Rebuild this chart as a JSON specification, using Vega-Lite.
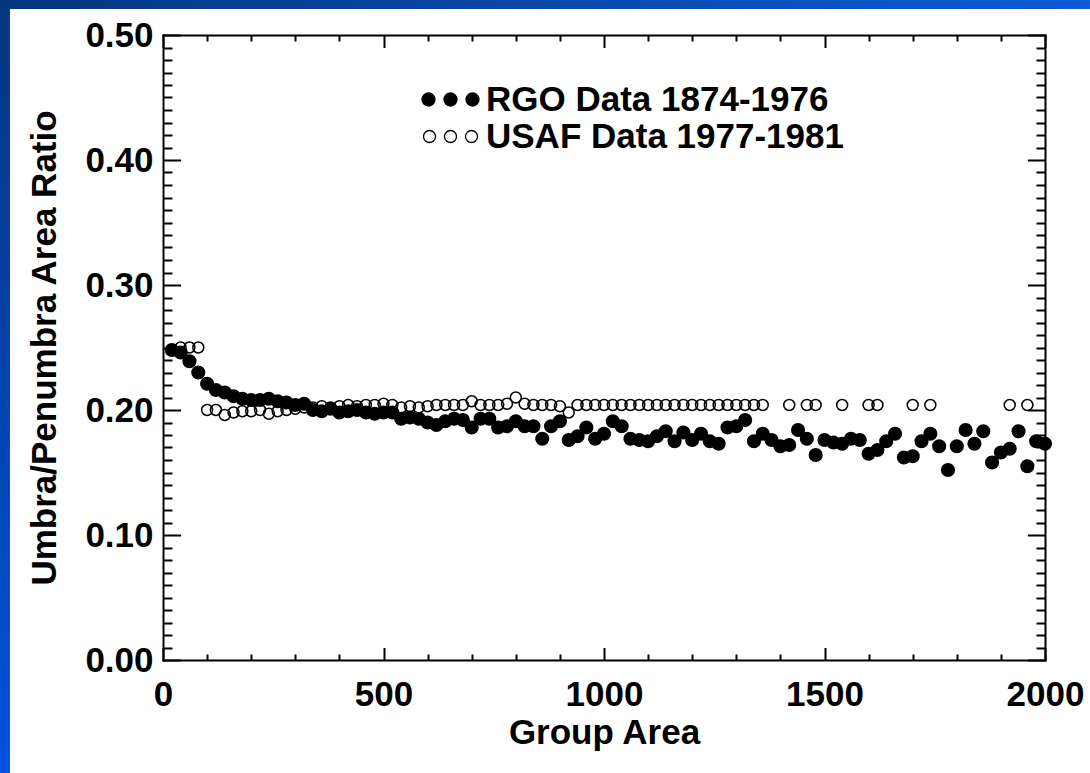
{
  "$schema": "https://vega.github.io/schema/vega-lite/v6.json",
  "width": 882,
  "height": 625,
  "autosize": {"type": "none"},
  "padding": {"left": 163, "top": 35, "right": 45, "bottom": 113},
  "background": "white",
  "config": {
    "view": {"stroke": null},
    "font": "Liberation Sans",
    "axis": {"domainCap": "square", "grid": false}
  },
  "datasets": {
    "rgo": [
      {"x": 20, "y": 0.248, "series": "RGO Data 1874-1976"},
      {"x": 40, "y": 0.246, "series": "RGO Data 1874-1976"},
      {"x": 60, "y": 0.239, "series": "RGO Data 1874-1976"},
      {"x": 80, "y": 0.230, "series": "RGO Data 1874-1976"},
      {"x": 100, "y": 0.221, "series": "RGO Data 1874-1976"},
      {"x": 120, "y": 0.216, "series": "RGO Data 1874-1976"},
      {"x": 140, "y": 0.214, "series": "RGO Data 1874-1976"},
      {"x": 160, "y": 0.211, "series": "RGO Data 1874-1976"},
      {"x": 180, "y": 0.209, "series": "RGO Data 1874-1976"},
      {"x": 200, "y": 0.208, "series": "RGO Data 1874-1976"},
      {"x": 220, "y": 0.208, "series": "RGO Data 1874-1976"},
      {"x": 240, "y": 0.209, "series": "RGO Data 1874-1976"},
      {"x": 260, "y": 0.207, "series": "RGO Data 1874-1976"},
      {"x": 280, "y": 0.206, "series": "RGO Data 1874-1976"},
      {"x": 300, "y": 0.204, "series": "RGO Data 1874-1976"},
      {"x": 320, "y": 0.205, "series": "RGO Data 1874-1976"},
      {"x": 340, "y": 0.200, "series": "RGO Data 1874-1976"},
      {"x": 360, "y": 0.199, "series": "RGO Data 1874-1976"},
      {"x": 380, "y": 0.201, "series": "RGO Data 1874-1976"},
      {"x": 400, "y": 0.198, "series": "RGO Data 1874-1976"},
      {"x": 420, "y": 0.199, "series": "RGO Data 1874-1976"},
      {"x": 440, "y": 0.200, "series": "RGO Data 1874-1976"},
      {"x": 460, "y": 0.198, "series": "RGO Data 1874-1976"},
      {"x": 480, "y": 0.197, "series": "RGO Data 1874-1976"},
      {"x": 500, "y": 0.198, "series": "RGO Data 1874-1976"},
      {"x": 520, "y": 0.198, "series": "RGO Data 1874-1976"},
      {"x": 540, "y": 0.193, "series": "RGO Data 1874-1976"},
      {"x": 560, "y": 0.194, "series": "RGO Data 1874-1976"},
      {"x": 580, "y": 0.193, "series": "RGO Data 1874-1976"},
      {"x": 600, "y": 0.190, "series": "RGO Data 1874-1976"},
      {"x": 620, "y": 0.188, "series": "RGO Data 1874-1976"},
      {"x": 640, "y": 0.191, "series": "RGO Data 1874-1976"},
      {"x": 660, "y": 0.193, "series": "RGO Data 1874-1976"},
      {"x": 680, "y": 0.192, "series": "RGO Data 1874-1976"},
      {"x": 700, "y": 0.186, "series": "RGO Data 1874-1976"},
      {"x": 720, "y": 0.193, "series": "RGO Data 1874-1976"},
      {"x": 740, "y": 0.193, "series": "RGO Data 1874-1976"},
      {"x": 760, "y": 0.186, "series": "RGO Data 1874-1976"},
      {"x": 780, "y": 0.187, "series": "RGO Data 1874-1976"},
      {"x": 800, "y": 0.191, "series": "RGO Data 1874-1976"},
      {"x": 820, "y": 0.187, "series": "RGO Data 1874-1976"},
      {"x": 840, "y": 0.187, "series": "RGO Data 1874-1976"},
      {"x": 860, "y": 0.177, "series": "RGO Data 1874-1976"},
      {"x": 880, "y": 0.187, "series": "RGO Data 1874-1976"},
      {"x": 900, "y": 0.191, "series": "RGO Data 1874-1976"},
      {"x": 920, "y": 0.176, "series": "RGO Data 1874-1976"},
      {"x": 940, "y": 0.179, "series": "RGO Data 1874-1976"},
      {"x": 960, "y": 0.186, "series": "RGO Data 1874-1976"},
      {"x": 980, "y": 0.177, "series": "RGO Data 1874-1976"},
      {"x": 1000, "y": 0.181, "series": "RGO Data 1874-1976"},
      {"x": 1020, "y": 0.191, "series": "RGO Data 1874-1976"},
      {"x": 1040, "y": 0.187, "series": "RGO Data 1874-1976"},
      {"x": 1060, "y": 0.177, "series": "RGO Data 1874-1976"},
      {"x": 1080, "y": 0.176, "series": "RGO Data 1874-1976"},
      {"x": 1100, "y": 0.175, "series": "RGO Data 1874-1976"},
      {"x": 1120, "y": 0.179, "series": "RGO Data 1874-1976"},
      {"x": 1140, "y": 0.183, "series": "RGO Data 1874-1976"},
      {"x": 1160, "y": 0.175, "series": "RGO Data 1874-1976"},
      {"x": 1180, "y": 0.182, "series": "RGO Data 1874-1976"},
      {"x": 1200, "y": 0.176, "series": "RGO Data 1874-1976"},
      {"x": 1220, "y": 0.181, "series": "RGO Data 1874-1976"},
      {"x": 1240, "y": 0.175, "series": "RGO Data 1874-1976"},
      {"x": 1260, "y": 0.173, "series": "RGO Data 1874-1976"},
      {"x": 1280, "y": 0.186, "series": "RGO Data 1874-1976"},
      {"x": 1300, "y": 0.187, "series": "RGO Data 1874-1976"},
      {"x": 1320, "y": 0.192, "series": "RGO Data 1874-1976"},
      {"x": 1340, "y": 0.175, "series": "RGO Data 1874-1976"},
      {"x": 1360, "y": 0.181, "series": "RGO Data 1874-1976"},
      {"x": 1380, "y": 0.176, "series": "RGO Data 1874-1976"},
      {"x": 1400, "y": 0.171, "series": "RGO Data 1874-1976"},
      {"x": 1420, "y": 0.172, "series": "RGO Data 1874-1976"},
      {"x": 1440, "y": 0.184, "series": "RGO Data 1874-1976"},
      {"x": 1460, "y": 0.177, "series": "RGO Data 1874-1976"},
      {"x": 1480, "y": 0.164, "series": "RGO Data 1874-1976"},
      {"x": 1500, "y": 0.176, "series": "RGO Data 1874-1976"},
      {"x": 1520, "y": 0.174, "series": "RGO Data 1874-1976"},
      {"x": 1540, "y": 0.173, "series": "RGO Data 1874-1976"},
      {"x": 1560, "y": 0.177, "series": "RGO Data 1874-1976"},
      {"x": 1580, "y": 0.176, "series": "RGO Data 1874-1976"},
      {"x": 1600, "y": 0.165, "series": "RGO Data 1874-1976"},
      {"x": 1620, "y": 0.168, "series": "RGO Data 1874-1976"},
      {"x": 1640, "y": 0.175, "series": "RGO Data 1874-1976"},
      {"x": 1660, "y": 0.181, "series": "RGO Data 1874-1976"},
      {"x": 1680, "y": 0.162, "series": "RGO Data 1874-1976"},
      {"x": 1700, "y": 0.163, "series": "RGO Data 1874-1976"},
      {"x": 1720, "y": 0.175, "series": "RGO Data 1874-1976"},
      {"x": 1740, "y": 0.181, "series": "RGO Data 1874-1976"},
      {"x": 1760, "y": 0.171, "series": "RGO Data 1874-1976"},
      {"x": 1780, "y": 0.152, "series": "RGO Data 1874-1976"},
      {"x": 1800, "y": 0.171, "series": "RGO Data 1874-1976"},
      {"x": 1820, "y": 0.184, "series": "RGO Data 1874-1976"},
      {"x": 1840, "y": 0.173, "series": "RGO Data 1874-1976"},
      {"x": 1860, "y": 0.183, "series": "RGO Data 1874-1976"},
      {"x": 1880, "y": 0.158, "series": "RGO Data 1874-1976"},
      {"x": 1900, "y": 0.166, "series": "RGO Data 1874-1976"},
      {"x": 1920, "y": 0.169, "series": "RGO Data 1874-1976"},
      {"x": 1940, "y": 0.183, "series": "RGO Data 1874-1976"},
      {"x": 1960, "y": 0.155, "series": "RGO Data 1874-1976"},
      {"x": 1980, "y": 0.175, "series": "RGO Data 1874-1976"},
      {"x": 2000, "y": 0.173, "series": "RGO Data 1874-1976"}
    ],
    "usaf": [
      {"x": 40, "y": 0.250, "series": "USAF Data 1977-1981"},
      {"x": 60, "y": 0.250, "series": "USAF Data 1977-1981"},
      {"x": 80, "y": 0.250, "series": "USAF Data 1977-1981"},
      {"x": 100, "y": 0.200, "series": "USAF Data 1977-1981"},
      {"x": 120, "y": 0.200, "series": "USAF Data 1977-1981"},
      {"x": 140, "y": 0.196, "series": "USAF Data 1977-1981"},
      {"x": 160, "y": 0.198, "series": "USAF Data 1977-1981"},
      {"x": 180, "y": 0.199, "series": "USAF Data 1977-1981"},
      {"x": 200, "y": 0.199, "series": "USAF Data 1977-1981"},
      {"x": 220, "y": 0.200, "series": "USAF Data 1977-1981"},
      {"x": 240, "y": 0.197, "series": "USAF Data 1977-1981"},
      {"x": 260, "y": 0.199, "series": "USAF Data 1977-1981"},
      {"x": 280, "y": 0.200, "series": "USAF Data 1977-1981"},
      {"x": 300, "y": 0.201, "series": "USAF Data 1977-1981"},
      {"x": 320, "y": 0.202, "series": "USAF Data 1977-1981"},
      {"x": 340, "y": 0.202, "series": "USAF Data 1977-1981"},
      {"x": 360, "y": 0.203, "series": "USAF Data 1977-1981"},
      {"x": 380, "y": 0.202, "series": "USAF Data 1977-1981"},
      {"x": 400, "y": 0.203, "series": "USAF Data 1977-1981"},
      {"x": 420, "y": 0.204, "series": "USAF Data 1977-1981"},
      {"x": 440, "y": 0.203, "series": "USAF Data 1977-1981"},
      {"x": 460, "y": 0.204, "series": "USAF Data 1977-1981"},
      {"x": 480, "y": 0.204, "series": "USAF Data 1977-1981"},
      {"x": 500, "y": 0.205, "series": "USAF Data 1977-1981"},
      {"x": 520, "y": 0.204, "series": "USAF Data 1977-1981"},
      {"x": 540, "y": 0.202, "series": "USAF Data 1977-1981"},
      {"x": 560, "y": 0.203, "series": "USAF Data 1977-1981"},
      {"x": 580, "y": 0.202, "series": "USAF Data 1977-1981"},
      {"x": 600, "y": 0.203, "series": "USAF Data 1977-1981"},
      {"x": 620, "y": 0.204, "series": "USAF Data 1977-1981"},
      {"x": 640, "y": 0.204, "series": "USAF Data 1977-1981"},
      {"x": 660, "y": 0.204, "series": "USAF Data 1977-1981"},
      {"x": 680, "y": 0.204, "series": "USAF Data 1977-1981"},
      {"x": 700, "y": 0.207, "series": "USAF Data 1977-1981"},
      {"x": 720, "y": 0.204, "series": "USAF Data 1977-1981"},
      {"x": 740, "y": 0.204, "series": "USAF Data 1977-1981"},
      {"x": 760, "y": 0.204, "series": "USAF Data 1977-1981"},
      {"x": 780, "y": 0.205, "series": "USAF Data 1977-1981"},
      {"x": 800, "y": 0.210, "series": "USAF Data 1977-1981"},
      {"x": 820, "y": 0.205, "series": "USAF Data 1977-1981"},
      {"x": 840, "y": 0.204, "series": "USAF Data 1977-1981"},
      {"x": 860, "y": 0.204, "series": "USAF Data 1977-1981"},
      {"x": 880, "y": 0.204, "series": "USAF Data 1977-1981"},
      {"x": 900, "y": 0.203, "series": "USAF Data 1977-1981"},
      {"x": 920, "y": 0.198, "series": "USAF Data 1977-1981"},
      {"x": 940, "y": 0.204, "series": "USAF Data 1977-1981"},
      {"x": 960, "y": 0.204, "series": "USAF Data 1977-1981"},
      {"x": 980, "y": 0.204, "series": "USAF Data 1977-1981"},
      {"x": 1000, "y": 0.204, "series": "USAF Data 1977-1981"},
      {"x": 1020, "y": 0.204, "series": "USAF Data 1977-1981"},
      {"x": 1040, "y": 0.204, "series": "USAF Data 1977-1981"},
      {"x": 1060, "y": 0.204, "series": "USAF Data 1977-1981"},
      {"x": 1080, "y": 0.204, "series": "USAF Data 1977-1981"},
      {"x": 1100, "y": 0.204, "series": "USAF Data 1977-1981"},
      {"x": 1120, "y": 0.204, "series": "USAF Data 1977-1981"},
      {"x": 1140, "y": 0.204, "series": "USAF Data 1977-1981"},
      {"x": 1160, "y": 0.204, "series": "USAF Data 1977-1981"},
      {"x": 1180, "y": 0.204, "series": "USAF Data 1977-1981"},
      {"x": 1200, "y": 0.204, "series": "USAF Data 1977-1981"},
      {"x": 1220, "y": 0.204, "series": "USAF Data 1977-1981"},
      {"x": 1240, "y": 0.204, "series": "USAF Data 1977-1981"},
      {"x": 1260, "y": 0.204, "series": "USAF Data 1977-1981"},
      {"x": 1280, "y": 0.204, "series": "USAF Data 1977-1981"},
      {"x": 1300, "y": 0.204, "series": "USAF Data 1977-1981"},
      {"x": 1320, "y": 0.204, "series": "USAF Data 1977-1981"},
      {"x": 1340, "y": 0.204, "series": "USAF Data 1977-1981"},
      {"x": 1360, "y": 0.204, "series": "USAF Data 1977-1981"},
      {"x": 1420, "y": 0.204, "series": "USAF Data 1977-1981"},
      {"x": 1460, "y": 0.204, "series": "USAF Data 1977-1981"},
      {"x": 1480, "y": 0.204, "series": "USAF Data 1977-1981"},
      {"x": 1540, "y": 0.204, "series": "USAF Data 1977-1981"},
      {"x": 1600, "y": 0.204, "series": "USAF Data 1977-1981"},
      {"x": 1620, "y": 0.204, "series": "USAF Data 1977-1981"},
      {"x": 1700, "y": 0.204, "series": "USAF Data 1977-1981"},
      {"x": 1740, "y": 0.204, "series": "USAF Data 1977-1981"},
      {"x": 1920, "y": 0.204, "series": "USAF Data 1977-1981"},
      {"x": 1960, "y": 0.204, "series": "USAF Data 1977-1981"}
    ],
    "legendrows": [
      {"series": "RGO Data 1874-1976"},
      {"series": "USAF Data 1977-1981"}
    ]
  },
  "layer": [
    {
      "data": {"values": [{"part": "top band"}]},
      "mark": {"type": "rect", "color": {"gradient": "linear", "x1": 0, "y1": 0, "x2": 1, "y2": 0, "stops": [{"offset": 0, "color": "#06357f"}, {"offset": 1, "color": "#0a5bd6"}]}},
      "encoding": {
        "x": {"datum": -370, "type": "quantitative", "scale": {"domain": [0, 2000], "nice": false, "zero": false}, "axis": null},
        "x2": {"datum": 2102},
        "y": {"datum": 0.53, "type": "quantitative", "scale": {"domain": [0, 0.5], "nice": false, "zero": false}, "axis": null},
        "y2": {"datum": 0.5208}
      }
    },
    {
      "data": {"values": [{"part": "left band"}]},
      "mark": {"type": "rect", "color": {"gradient": "linear", "x1": 0, "y1": 0, "x2": 0, "y2": 1, "stops": [{"offset": 0, "color": "#06357f"}, {"offset": 1, "color": "#0052dc"}]}},
      "encoding": {
        "x": {"datum": -370, "type": "quantitative", "axis": null},
        "x2": {"datum": -347},
        "y": {"datum": 0.53, "type": "quantitative", "axis": null},
        "y2": {"datum": -0.095}
      }
    },
    {
      "data": {"name": "rgo"},
      "mark": {"type": "circle", "color": "black", "size": 200, "opacity": 1},
      "encoding": {
        "x": {
          "field": "x", "type": "quantitative",
          "axis": {
            "orient": "bottom",
            "values": [0, 100, 200, 300, 400, 500, 600, 700, 800, 900, 1000, 1100, 1200, 1300, 1400, 1500, 1600, 1700, 1800, 1900, 2000],
            "tickSize": -12.5, "tickWidth": 2, "tickColor": "black",
            "tickDash": {"condition": {"test": "datum.value % 500 !== 0", "value": [6, 40]}, "value": []},
            "domainColor": "black", "domainWidth": 2,
            "labelExpr": "datum.value % 500 === 0 ? format(datum.value, 'd') : ''",
            "labelFont": "Liberation Sans", "labelFontSize": 35, "labelFontWeight": "bold", "labelColor": "black",
            "labelPadding": 30, "labelFlush": false, "labelOverlap": false, "labelBound": false,
            "title": "Group Area", "titleFont": "Liberation Sans", "titleFontSize": 35, "titleFontWeight": "bold", "titleColor": "black", "titlePadding": 3
          }
        },
        "y": {
          "field": "y", "type": "quantitative",
          "axis": {
            "orient": "left",
            "values": [0, 0.01, 0.02, 0.03, 0.04, 0.05, 0.06, 0.07, 0.08, 0.09, 0.1, 0.11, 0.12, 0.13, 0.14, 0.15, 0.16, 0.17, 0.18, 0.19, 0.2, 0.21, 0.22, 0.23, 0.24, 0.25, 0.26, 0.27, 0.28, 0.29, 0.3, 0.31, 0.32, 0.33, 0.34, 0.35, 0.36, 0.37, 0.38, 0.39, 0.4, 0.41, 0.42, 0.43, 0.44, 0.45, 0.46, 0.47, 0.48, 0.49, 0.5],
            "tickSize": -17.6, "tickWidth": 2, "tickColor": "black",
            "tickDash": {"condition": {"test": "abs(datum.value * 10 - round(datum.value * 10)) > 0.001", "value": [9, 40]}, "value": []},
            "domainColor": "black", "domainWidth": 2,
            "labelExpr": "abs(datum.value * 10 - round(datum.value * 10)) < 0.001 ? format(datum.value, '.2f') : ''",
            "labelFont": "Liberation Sans", "labelFontSize": 35, "labelFontWeight": "bold", "labelColor": "black",
            "labelPadding": 27.6, "labelFlush": false, "labelOverlap": false, "labelBound": false,
            "title": "Umbra/Penumbra Area Ratio", "titleFont": "Liberation Sans", "titleFontSize": 35, "titleFontWeight": "bold", "titleColor": "black", "titlePadding": 22
          }
        }
      }
    },
    {
      "data": {"name": "usaf"},
      "mark": {"type": "point", "shape": "circle", "filled": false, "stroke": "black", "strokeWidth": 1.5, "size": 120, "opacity": 1},
      "encoding": {
        "x": {
          "field": "x", "type": "quantitative",
          "axis": {
            "orient": "top",
            "values": [0, 100, 200, 300, 400, 500, 600, 700, 800, 900, 1000, 1100, 1200, 1300, 1400, 1500, 1600, 1700, 1800, 1900, 2000],
            "tickSize": -12.5, "tickWidth": 2, "tickColor": "black",
            "tickDash": {"condition": {"test": "datum.value % 500 !== 0", "value": [6, 40]}, "value": []},
            "domainColor": "black", "domainWidth": 2,
            "labels": false, "title": null
          }
        },
        "y": {
          "field": "y", "type": "quantitative",
          "axis": {
            "orient": "right",
            "values": [0, 0.01, 0.02, 0.03, 0.04, 0.05, 0.06, 0.07, 0.08, 0.09, 0.1, 0.11, 0.12, 0.13, 0.14, 0.15, 0.16, 0.17, 0.18, 0.19, 0.2, 0.21, 0.22, 0.23, 0.24, 0.25, 0.26, 0.27, 0.28, 0.29, 0.3, 0.31, 0.32, 0.33, 0.34, 0.35, 0.36, 0.37, 0.38, 0.39, 0.4, 0.41, 0.42, 0.43, 0.44, 0.45, 0.46, 0.47, 0.48, 0.49, 0.5],
            "tickSize": -17.6, "tickWidth": 2, "tickColor": "black",
            "tickDash": {"condition": {"test": "abs(datum.value * 10 - round(datum.value * 10)) > 0.001", "value": [9, 40]}, "value": []},
            "domainColor": "black", "domainWidth": 2,
            "labels": false, "title": null
          }
        }
      }
    },
    {
      "data": {"name": "legendrows"},
      "mark": {"type": "point", "opacity": 0, "filled": true, "strokeWidth": 1.3},
      "encoding": {
        "shape": {
          "field": "series", "type": "nominal",
          "scale": {
            "domain": ["RGO Data 1874-1976", "USAF Data 1977-1981"],
            "range": [
              "M-2.85,0C-2.85,-0.359,-2.559,-0.65,-2.2,-0.65C-1.841,-0.65,-1.55,-0.359,-1.55,0C-1.55,0.359,-1.841,0.65,-2.2,0.65C-2.559,0.65,-2.85,0.359,-2.85,0Z M-0.65,0C-0.65,-0.359,-0.359,-0.65,0,-0.65C0.359,-0.65,0.65,-0.359,0.65,0C0.65,0.359,0.359,0.65,0,0.65C-0.359,0.65,-0.65,0.359,-0.65,0Z M1.55,0C1.55,-0.359,1.841,-0.65,2.2,-0.65C2.559,-0.65,2.85,-0.359,2.85,0C2.85,0.359,2.559,0.65,2.2,0.65C1.841,0.65,1.55,0.359,1.55,0Z",
              "M-2.7,0C-2.7,-0.3314,-2.4314,-0.6,-2.1,-0.6C-1.7686,-0.6,-1.5,-0.3314,-1.5,0C-1.5,0.3314,-1.7686,0.6,-2.1,0.6C-2.4314,0.6,-2.7,0.3314,-2.7,0Z M-0.6,0C-0.6,-0.3314,-0.3314,-0.6,0,-0.6C0.3314,-0.6,0.6,-0.3314,0.6,0C0.6,0.3314,0.3314,0.6,0,0.6C-0.3314,0.6,-0.6,0.3314,-0.6,0Z M1.5,0C1.5,-0.3314,1.7686,-0.6,2.1,-0.6C2.4314,-0.6,2.7,-0.3314,2.7,0C2.7,0.3314,2.4314,0.6,2.1,0.6C1.7686,0.6,1.5,0.3314,1.5,0Z"
            ]
          },
          "legend": {
            "title": null, "orient": "none", "legendX": 270, "legendY": 47, "padding": 0,
            "symbolSize": 400, "symbolOpacity": 1, "symbolStrokeWidth": 1.3,
            "labelFont": "Liberation Sans", "labelFontSize": 35, "labelFontWeight": "bold", "labelColor": "black",
            "labelLimit": 0, "labelOffset": 18, "rowPadding": 1
          }
        },
        "fill": {
          "field": "series", "type": "nominal",
          "scale": {"domain": ["RGO Data 1874-1976", "USAF Data 1977-1981"], "range": ["black", "transparent"]},
          "legend": {
            "title": null, "orient": "none", "legendX": 270, "legendY": 47, "padding": 0,
            "symbolSize": 400, "symbolOpacity": 1, "symbolStrokeWidth": 1.3,
            "labelFont": "Liberation Sans", "labelFontSize": 35, "labelFontWeight": "bold", "labelColor": "black",
            "labelLimit": 0, "labelOffset": 18, "rowPadding": 1
          }
        },
        "stroke": {
          "field": "series", "type": "nominal",
          "scale": {"domain": ["RGO Data 1874-1976", "USAF Data 1977-1981"], "range": ["black", "black"]},
          "legend": {
            "title": null, "orient": "none", "legendX": 270, "legendY": 47, "padding": 0,
            "symbolSize": 400, "symbolOpacity": 1, "symbolStrokeWidth": 1.3,
            "labelFont": "Liberation Sans", "labelFontSize": 35, "labelFontWeight": "bold", "labelColor": "black",
            "labelLimit": 0, "labelOffset": 18, "rowPadding": 1
          }
        }
      }
    }
  ],
  "resolve": {"axis": {"x": "independent", "y": "independent"}}
}
